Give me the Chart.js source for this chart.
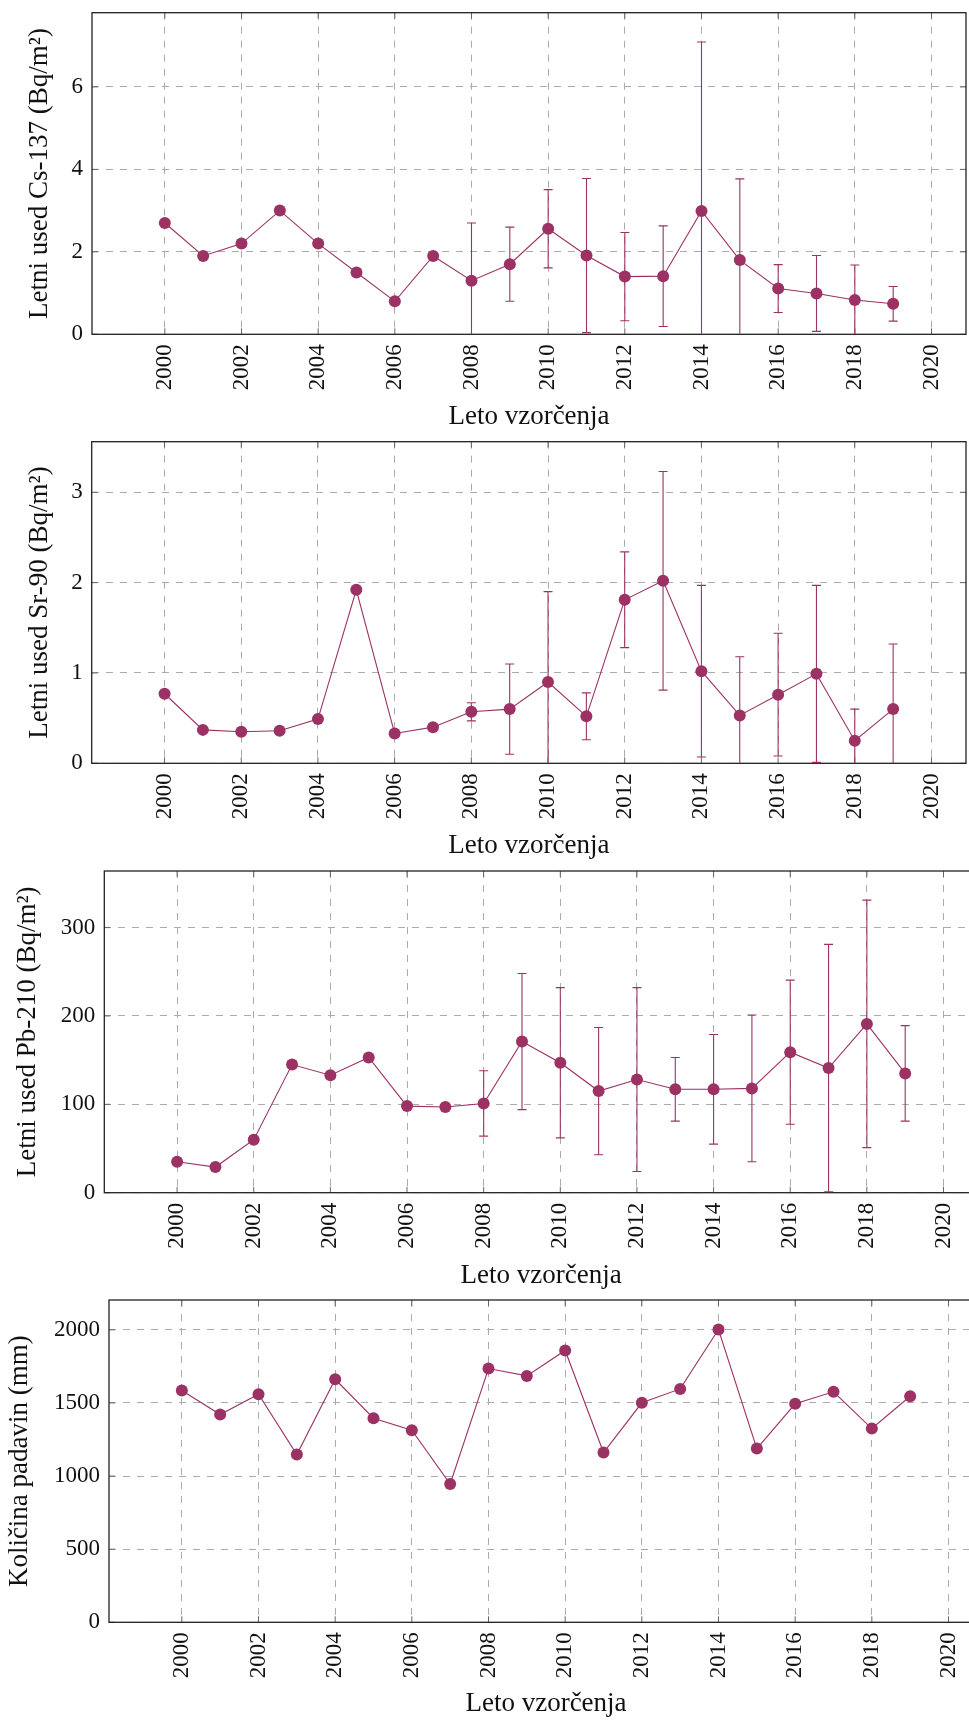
<!DOCTYPE html>
<html><head><meta charset="utf-8">
<script src="https://cdn.jsdelivr.net/npm/chart.js@4.4.1/dist/chart.umd.min.js"></script>
<style>
html,body{margin:0;padding:0;background:#fff;overflow:hidden;width:969px;height:1720px;position:relative;}
.box{position:absolute;left:0;width:1020px;}
canvas{display:block;}
</style></head><body>
<div class="box" style="top:0px;height:430px"><canvas id="c1" width="1020" height="430"></canvas></div>
<div class="box" style="top:430px;height:430px"><canvas id="c2" width="1020" height="430"></canvas></div>
<div class="box" style="top:860px;height:430px"><canvas id="c3" width="1020" height="430"></canvas></div>
<div class="box" style="top:1290px;height:430px"><canvas id="c4" width="1020" height="430"></canvas></div>
<script>
// ---- data ----
const years = [2000,2001,2002,2003,2004,2005,2006,2007,2008,2009,2010,2011,2012,2013,2014,2015,2016,2017,2018,2019];
const xTickLabels = [2000,2002,2004,2006,2008,2010,2012,2014,2016,2018,2020];

const cs137    = [2.7,1.9,2.2,3.0,2.2,1.5,0.8,1.9,1.3,1.7,2.56,1.91,1.4,1.41,2.99,1.8,1.11,0.99,0.83,0.74];
const cs137Err = [null,null,null,null,null,null,null,null,1.4,0.9,0.95,1.87,1.07,1.22,4.1,1.97,0.58,0.92,0.85,0.42];
const cs137Ticks = [0,2,4,6];

const sr90    = [0.77,0.37,0.35,0.36,0.49,1.92,0.33,0.40,0.57,0.60,0.90,0.52,1.81,2.02,1.02,0.53,0.76,0.99,0.25,0.60];
const sr90Err = [null,null,null,null,null,null,null,null,0.10,0.50,1.00,0.26,0.53,1.21,0.95,0.65,0.68,0.98,0.35,0.72];
const sr90Ticks = [0,1,2,3];

const pb210    = [35,29,60,145,133,153,98,97,101,171,147,115,128,117,117,118,159,141,191,135];
const pb210Err = [null,null,null,null,null,null,null,null,37,77,85,72,104,36,62,83,81.5,140,140,54];
const pb210Ticks = [0,100,200,300];

const rain = [1585,1421,1560,1147,1662,1396,1313,946,1735,1685,1859,1161,1501,1596,2002,1188,1494,1576,1325,1546];
const rainTicks = [0,500,1000,1500,2000];

const xTitle = 'Leto vzorčenja';

// ---- style ----
const COL = '#9c3264';
const GRID = '#ababab';
const FONT = 'Liberation Serif';
const TICKFONT = {family: FONT, size: 23, lineHeight: 1.2};
const TITLEFONT = {family: FONT, size: 27, lineHeight: 1};

const boxPlugin = {
  id: 'boxPlugin',
  beforeDatasetsDraw(chart) {
    const {ctx, chartArea: a, scales} = chart;
    ctx.save();
    ctx.strokeStyle = '#666';
    ctx.lineWidth = 1;
    ctx.beginPath();
    scales.x.ticks.forEach(t => {
      const px = scales.x.getPixelForValue(t.value);
      ctx.moveTo(px, a.bottom); ctx.lineTo(px, a.bottom - 6);
      ctx.moveTo(px, a.top); ctx.lineTo(px, a.top + 6);
    });
    scales.y.ticks.forEach(t => {
      const py = scales.y.getPixelForValue(t.value);
      ctx.moveTo(a.left, py); ctx.lineTo(a.left + 6, py);
      ctx.moveTo(a.right, py); ctx.lineTo(a.right - 6, py);
    });
    ctx.stroke();
    ctx.strokeStyle = '#222';
    ctx.lineWidth = 1.3;
    ctx.strokeRect(a.left, a.top, a.right - a.left, a.bottom - a.top);
    const errs = chart.options.plugins.boxPlugin.errors;
    if (errs) {
      const ds = chart.data.datasets[0].data;
      ctx.beginPath();
      ctx.rect(a.left, a.top, a.right - a.left, a.bottom - a.top);
      ctx.clip();
      ctx.strokeStyle = COL;
      ctx.lineWidth = 1.1;
      ctx.beginPath();
      ds.forEach((p, i) => {
        const e = errs[i];
        if (e == null) return;
        const px = scales.x.getPixelForValue(p.x);
        const y1 = scales.y.getPixelForValue(p.y + e);
        const y0 = scales.y.getPixelForValue(p.y - e);
        ctx.moveTo(px, y0); ctx.lineTo(px, y1);
        ctx.moveTo(px - 4.5, y1); ctx.lineTo(px + 4.5, y1);
        ctx.moveTo(px - 4.5, y0); ctx.lineTo(px + 4.5, y0);
      });
      ctx.stroke();
    }
    ctx.restore();
  }
};

function makeChart(id, c) {
  const data = years.map((y, i) => ({x: y, y: c.values[i]}));
  return new Chart(document.getElementById(id), {
    type: 'line',
    data: {datasets: [{
      data, borderColor: COL, backgroundColor: COL, borderWidth: 1.1,
      pointRadius: 6, pointHoverRadius: 6, pointBackgroundColor: COL, pointBorderWidth: 0,
      tension: 0, fill: false
    }]},
    plugins: [boxPlugin],
    options: {
      responsive: false, animation: false, devicePixelRatio: 1,
      layout: {padding: {top: c.plotTop, right: 1020 - c.plotRight, left: 0, bottom: 0}},
      plugins: {legend: {display: false}, tooltip: {enabled: false}, boxPlugin: {errors: c.errors}},
      scales: {
        x: {
          type: 'linear', min: 1998.1, max: 2020.9,
          afterBuildTicks: s => { s.ticks = xTickLabels.map(v => ({value: v})); },
          afterFit: s => { s.height = 430 - c.plotBottom; s.paddingLeft = 0; s.paddingRight = 0; },
          ticks: {color: '#111', font: TICKFONT, maxRotation: 90, minRotation: 90, padding: 10,
                  callback: v => String(v), autoSkip: false},
          grid: {color: GRID, lineWidth: 1, drawTicks: false},
          border: {display: false, dash: [7, 7]},
          title: {display: true, text: xTitle, color: '#111', font: TITLEFONT, padding: {top: 0, bottom: c.xTitlePad}}
        },
        y: {
          type: 'linear', min: 0, max: c.yMax,
          afterBuildTicks: s => { s.ticks = c.yTicks.map(v => ({value: v})); },
          afterFit: s => { s.width = c.plotLeft; s.paddingTop = 0; s.paddingBottom = 0; },
          ticks: {color: '#111', font: TICKFONT, padding: 9, callback: v => String(v)},
          grid: {color: GRID, lineWidth: 1, drawTicks: false},
          border: {display: false, dash: [7, 7]},
          title: {display: true, text: c.yTitle, color: '#111', font: TITLEFONT, padding: {top: c.yTitlePad, bottom: 0}}
        }
      }
    }
  });
}

makeChart('c1', {values: cs137, errors: cs137Err, yTicks: cs137Ticks, yMax: 7.8,
  yTitle: 'Letni used Cs-137 (Bq/m²)', plotTop: 12.7, plotBottom: 334.3, plotLeft: 92, plotRight: 966,
  yTitlePad: 26.6, xTitlePad: -0.8});
makeChart('c2', {values: sr90, errors: sr90Err, yTicks: sr90Ticks, yMax: 3.56,
  yTitle: 'Letni used Sr-90 (Bq/m²)', plotTop: 11.7, plotBottom: 333.3, plotLeft: 91.7, plotRight: 966,
  yTitlePad: 26.6, xTitlePad: 0.7});
makeChart('c3', {values: pb210, errors: pb210Err, yTicks: pb210Ticks, yMax: 364,
  yTitle: 'Letni used Pb-210 (Bq/m²)', plotTop: 11, plotBottom: 332.7, plotLeft: 104.3, plotRight: 978,
  yTitlePad: 14, xTitlePad: 0.4});
makeChart('c4', {values: rain, errors: null, yTicks: rainTicks, yMax: 2204,
  yTitle: 'Količina padavin (mm)', plotTop: 10, plotBottom: 332.3, plotLeft: 109, plotRight: 983,
  yTitlePad: 6.6, xTitlePad: 2.4});
</script>
</body></html>
